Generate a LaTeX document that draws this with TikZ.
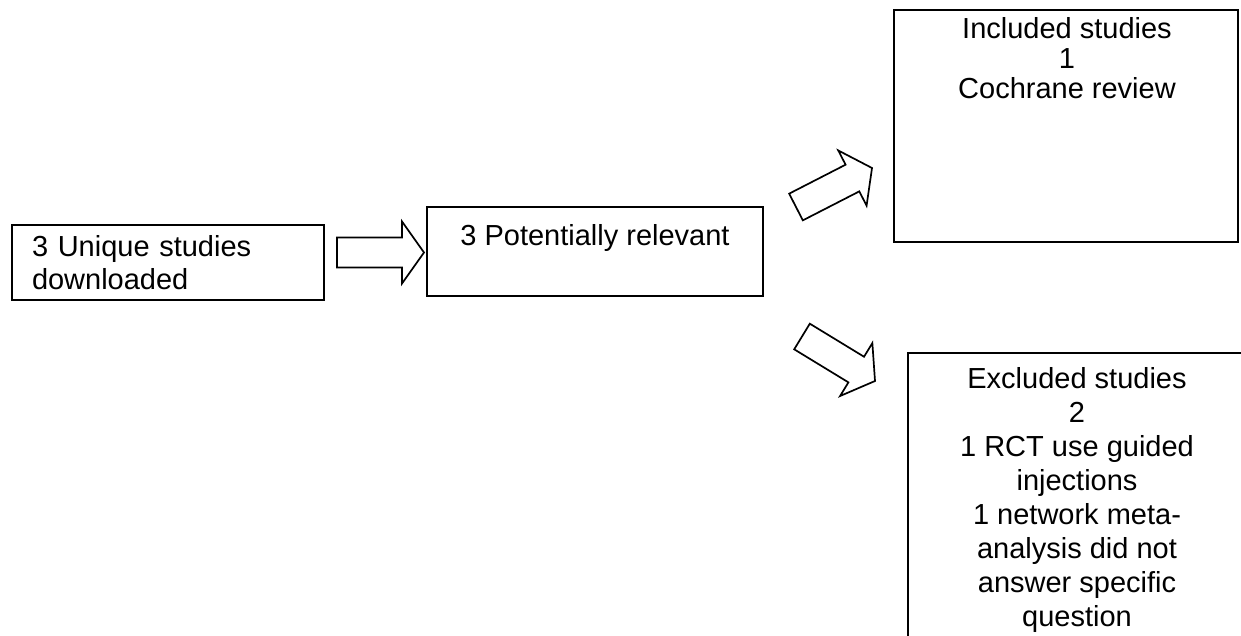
\documentclass[tikz,border=0pt]{standalone}
\usepackage{fontspec}
\setmainfont{Liberation Sans}
\usetikzlibrary{calc}
\newcommand\blockarr[2]{%
  \coordinate (hb) at ($(#2)!22pt!(#1)$);
  \draw[blockarrow] ($(#1)!15pt!90:(#2)$) -- ($(hb)!15pt!90:(#2)$) -- ($(hb)!31pt!90:(#2)$)
    -- (#2) -- ($(hb)!31pt!-90:(#2)$) -- ($(hb)!15pt!-90:(#2)$) -- ($(#1)!15pt!-90:(#2)$) -- cycle;}
\begin{document}
\begin{tikzpicture}[x=1pt,y=-1pt,
  box/.style={draw, line width=1.7pt, inner sep=0pt},
  txt/.style={font=\fontsize{29}{33}\selectfont, inner sep=0pt, align=center},
  blockarrow/.style={draw, line width=1.7pt, line join=miter}]
\useasboundingbox (0,0) rectangle (1241,636);
\clip (0,0) rectangle (1241,636);

\node[box, minimum width=312pt, minimum height=75pt, text width=272pt, align=left,
      inner xsep=20pt, font=\fontsize{29}{33}\selectfont] (b1) at (168,262.5) {3 Unique studies\\downloaded};

\node[box, minimum width=336pt, minimum height=89pt] (b2) at (595,251.5) {};
\node[txt, anchor=base] (t2) at (595,245) {3 Potentially relevant};

\node[box, minimum width=344pt, minimum height=232pt] (b3) at (1066,126) {};
\node[txt, anchor=north, font=\fontsize{29}{30}\selectfont] (t3) at (1067,17) {Included studies\\1\\Cochrane review};

\node[box, minimum width=340pt, minimum height=320pt, anchor=north west] (b4) at (907,352) {};
\node[txt, anchor=north, font=\fontsize{29}{34}\selectfont] (t4) at (1077,367) {Excluded studies\\2\\1 RCT use guided\\injections\\1 network meta-\\analysis did not\\answer specific\\question};

\coordinate (a1t) at (337,252.5);
\coordinate (a1h) at (424,252.5);
\coordinate (a2t) at (796,207);
\coordinate (a2h) at (872,168);
\coordinate (a3t) at (802,336.5);
\coordinate (a3h) at (875,381);
\blockarr{a1t}{a1h}
\blockarr{a2t}{a2h}
\blockarr{a3t}{a3h}
\end{tikzpicture}
\end{document}
